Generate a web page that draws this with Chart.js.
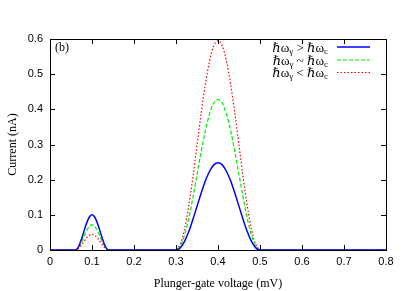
<!DOCTYPE html>
<html>
<head>
<meta charset="utf-8">
<script src="https://cdn.jsdelivr.net/npm/chart.js@4.4.1/dist/chart.umd.min.js"></script>
<style>
  html,body{margin:0;padding:0;background:#fff;}
  #wrap{width:415px;height:291px;position:relative;}
</style>
</head>
<body>
<div id="wrap"><canvas id="c"></canvas></div>
<script>
// plunger-gate voltage (mV)
const voltage = [0, 0.05, 0.06, 0.065, 0.07, 0.075, 0.08, 0.085, 0.09, 0.095, 0.10, 0.105, 0.11, 0.115, 0.12, 0.125, 0.13, 0.135, 0.14, 0.15,
  0.29, 0.30, 0.31, 0.32, 0.33, 0.34, 0.35, 0.36, 0.37, 0.38, 0.39, 0.40, 0.41, 0.42, 0.43, 0.44, 0.45, 0.46, 0.47, 0.48, 0.49, 0.50, 0.51, 0.8];
// current (nA), hw_g > hw_c
const currentAbove = [0, 0, 0, 0.004, 0.015, 0.031, 0.050, 0.069, 0.085, 0.096, 0.100, 0.096, 0.085, 0.069, 0.050, 0.031, 0.015, 0.004, 0, 0,
  0, 0, 0.006, 0.024, 0.051, 0.086, 0.124, 0.162, 0.197, 0.224, 0.242, 0.248, 0.242, 0.224, 0.197, 0.162, 0.124, 0.086, 0.051, 0.024, 0.006, 0, 0, 0];
// hw_g ~ hw_c
const currentNear = [0, 0, 0, 0.003, 0.011, 0.022, 0.036, 0.050, 0.061, 0.069, 0.072, 0.069, 0.061, 0.050, 0.036, 0.022, 0.011, 0.003, 0, 0,
  0, 0.001, 0.011, 0.041, 0.088, 0.148, 0.214, 0.280, 0.340, 0.387, 0.418, 0.428, 0.418, 0.387, 0.340, 0.280, 0.214, 0.148, 0.088, 0.041, 0.011, 0.001, 0, 0];
// hw_g < hw_c
const currentBelow = [0, 0, 0, 0.002, 0.007, 0.014, 0.0225, 0.031, 0.038, 0.043, 0.045, 0.043, 0.038, 0.031, 0.0225, 0.014, 0.007, 0.002, 0, 0,
  0, 0.002, 0.016, 0.057, 0.123, 0.205, 0.298, 0.390, 0.472, 0.538, 0.581, 0.595, 0.581, 0.538, 0.472, 0.390, 0.298, 0.205, 0.123, 0.057, 0.016, 0.002, 0, 0];

const legendRel = ['>', '~', '<'];
const lineColors = ['#0000ff', '#00ee00', '#ff0000'];
const lineDash = [[], [4, 2], [1.5, 2]];

const pts = arr => voltage.map((v, i) => ({x: v, y: arr[i]}));

const serif = '"Liberation Serif","DejaVu Serif",serif';
const sans = '"Liberation Sans","DejaVu Sans",sans-serif';

// box, inward ticks, (b) label, legend
const framePlugin = {
  id: 'frame',
  afterDraw(chart) {
    const ctx = chart.ctx, a = chart.chartArea;
    const xs = chart.scales.x, ys = chart.scales.y;
    ctx.save();
    ctx.strokeStyle = '#000';
    ctx.lineWidth = 1;
    ctx.setLineDash([]);
    ctx.strokeRect(Math.round(a.left) + 0.5, Math.round(a.top) + 0.5, Math.round(a.right - a.left), Math.round(a.bottom - a.top));
    ctx.beginPath();
    xs.ticks.forEach(t => {
      const px = Math.round(xs.getPixelForValue(t.value)) + 0.5;
      ctx.moveTo(px, a.bottom); ctx.lineTo(px, a.bottom - 5);
      ctx.moveTo(px, a.top); ctx.lineTo(px, a.top + 5);
    });
    ys.ticks.forEach(t => {
      const py = Math.round(ys.getPixelForValue(t.value)) + 0.5;
      ctx.moveTo(a.left, py); ctx.lineTo(a.left + 5, py);
      ctx.moveTo(a.right, py); ctx.lineTo(a.right - 5, py);
    });
    ctx.stroke();

    ctx.fillStyle = '#000';
    ctx.font = '12px ' + serif;
    ctx.textBaseline = 'middle';
    ctx.textAlign = 'left';
    ctx.fillText('(b)', a.left + 5, a.top + 9);

    // legend
    const rows = [47, 60, 72.5];
    rows.forEach((y, i) => {
      const parts = [
        {t: 'ℏω', f: '13px ' + serif, dy: 0},
        {t: 'γ', f: '9px ' + serif, dy: 3},
        {t: ' ' + legendRel[i] + ' ℏω', f: '13px ' + serif, dy: 0},
        {t: 'c', f: '9px ' + serif, dy: 3}
      ];
      let w = 0;
      parts.forEach(p => { ctx.font = p.f; w += ctx.measureText(p.t).width; });
      let x = 328 - w;
      ctx.textAlign = 'left';
      parts.forEach(p => {
        ctx.font = p.f;
        ctx.fillText(p.t, x, y + 1.5 + p.dy);
        x += ctx.measureText(p.t).width;
      });
      ctx.strokeStyle = lineColors[i];
      ctx.lineWidth = i === 0 ? 1.5 : 1.2;
      ctx.setLineDash(lineDash[i]);
      ctx.beginPath();
      ctx.moveTo(337, y); ctx.lineTo(370, y);
      ctx.stroke();
    });
    ctx.restore();
  }
};

const mkSet = (arr, i) => ({
  data: pts(arr),
  borderColor: lineColors[i],
  borderWidth: i === 0 ? 1.5 : 1.2,
  borderDash: lineDash[i],
  pointRadius: 0,
  fill: false,
  cubicInterpolationMode: 'monotone'
});

new Chart(document.getElementById('c'), {
  type: 'line',
  data: {datasets: [mkSet(currentAbove, 0), mkSet(currentNear, 1), mkSet(currentBelow, 2)]},
  options: {
    responsive: true,
    maintainAspectRatio: false,
    animation: false,
    layout: {padding: {top: 39, right: 29, left: 0, bottom: 0}},
    plugins: {legend: {display: false}, tooltip: {enabled: false}},
    scales: {
      x: {
        type: 'linear', min: 0, max: 0.8,
        ticks: {stepSize: 0.1, color: '#000', font: {family: sans, size: 11}, padding: 5, maxRotation: 0},
        grid: {display: false, drawTicks: false},
        border: {display: false},
        title: {display: true, text: 'Plunger-gate voltage (mV)', color: '#000', font: {family: serif, size: 12}, padding: {top: 4, bottom: 0}},
        afterFit(s) { s.height = 41; }
      },
      y: {
        min: 0, max: 0.6,
        ticks: {stepSize: 0.1, color: '#000', font: {family: sans, size: 11}, padding: 7},
        grid: {display: false, drawTicks: false},
        border: {display: false},
        title: {display: true, text: 'Current (nA)', color: '#000', font: {family: serif, size: 12}, padding: {top: 6, bottom: 0}},
        afterFit(s) { s.width = 50; }
      }
    }
  },
  plugins: [framePlugin]
});
</script>
</body>
</html>
